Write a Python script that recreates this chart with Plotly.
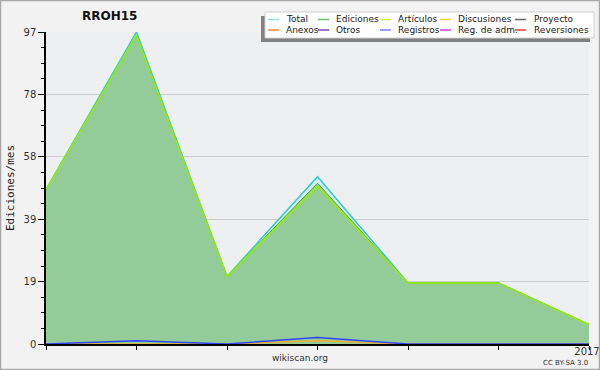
import plotly.graph_objects as go

# ---- data ----
months = ["2016-07", "2016-08", "2016-09", "2016-10", "2016-11", "2016-12", "2017-01"]
x_labels = ["", "", "", "", "", "", "2017"]
total = [48, 97, 21, 52, 19, 19, 6]
ediciones = [48, 96, 21, 50, 19, 19, 6]
articulos = [48, 96, 21, 49, 19, 19, 6]
discusiones = [0, 0, 0, 1, 0, 0, 0]
registros = [0, 1, 0, 2, 0, 0, 0]
y_tickvals = [0, 19.4, 38.8, 58.2, 77.6, 97]
y_ticktext = ["0", "19", "39", "58", "78", "97"]
y_minor = [i * 4.85 for i in range(21)]

legend_items = [
    ("Total", "#9adede"), ("Ediciones", "#6cbf6c"), ("Artículos", "#c8ee44"),
    ("Discusiones", "#ffcc44"), ("Proyecto", "#666666"),
    ("Anexos", "#ff8040"), ("Otros", "#8040c0"), ("Registros", "#8080ff"),
    ("Reg. de adm.", "#cc44cc"), ("Reversiones", "#ff3030"),
]

W, H = 600, 370
L, R, T, B = 46, 11, 32, 26
PW, PH = W - L - R, H - T - B


def px(x):
    return (x - L) / PW


def py(y):
    return (H - B - y) / PH


xi = list(range(len(months)))

fig = go.Figure()
fig.add_trace(go.Scatter(x=xi, y=total, mode="lines", fill="tozeroy",
                         fillcolor="rgba(215,240,238,0.9)",
                         line=dict(color="#33cccc", width=1.5), name="Total"))
fig.add_trace(go.Scatter(x=xi, y=ediciones, mode="lines", fill="tozeroy",
                         fillcolor="#93cb99",
                         line=dict(color="#44aa44", width=1), name="Ediciones"))
fig.add_trace(go.Scatter(x=xi, y=articulos, mode="lines",
                         line=dict(color="#99ee00", width=1.5), name="Artículos"))
fig.add_trace(go.Scatter(x=xi, y=discusiones, mode="lines",
                         line=dict(color="#e8b030", width=1.5), name="Discusiones"))
fig.add_trace(go.Scatter(x=xi, y=registros, mode="lines",
                         line=dict(color="#3344ff", width=1.5), name="Registros"))

shapes = []
annotations = []
# outer border
shapes.append(dict(type="rect", xref="paper", yref="paper",
                   x0=px(0.5), x1=px(W - 0.5), y0=py(H - 0.5), y1=py(0.5),
                   line=dict(color="#a8a8a8", width=1.5), layer="above"))
# legend shadow and box
shapes.append(dict(type="rect", xref="paper", yref="paper",
                   x0=px(261), x1=px(590), y0=py(42), y1=py(16),
                   fillcolor="#808080", line=dict(width=0), layer="above"))
shapes.append(dict(type="rect", xref="paper", yref="paper",
                   x0=px(265), x1=px(594), y0=py(38), y1=py(12),
                   fillcolor="#ffffff", line=dict(color="#d0d0d0", width=1), layer="above"))
col_sample = [268, 318, 380, 440, 515]
col_text = [284, 334, 396, 456, 532]
rows_y = [19.5, 30]
for i, (name, color) in enumerate(legend_items):
    r, c = divmod(i, 5)
    yy = rows_y[r]
    shapes.append(dict(type="line", xref="paper", yref="paper",
                       x0=px(col_sample[c]), x1=px(col_sample[c] + 11),
                       y0=py(yy), y1=py(yy), line=dict(color=color, width=1.5),
                       layer="above"))
    annotations.append(dict(text=name, xref="paper", yref="paper",
                            x=px(col_text[c]), y=py(yy), xanchor="left", yanchor="middle",
                            showarrow=False, font=dict(size=9, color="#222222",
                                                       family="DejaVu Sans")))

annotations.append(dict(text="<b>RROH15</b>", xref="paper", yref="paper",
                        x=px(109), y=py(16), xanchor="center", yanchor="middle",
                        showarrow=False, font=dict(size=12, color="#111111",
                                                   family="DejaVu Sans")))
annotations.append(dict(text="Ediciones/mes", xref="paper", yref="paper",
                        x=px(10), y=py(188), xanchor="center", yanchor="middle",
                        textangle=-90, showarrow=False,
                        font=dict(size=11, color="#222222", family="DejaVu Sans Mono")))
annotations.append(dict(text="wikiscan.org", xref="paper", yref="paper",
                        x=px(300), y=py(358), xanchor="center", yanchor="middle",
                        showarrow=False, font=dict(size=9, color="#333333",
                                                   family="DejaVu Sans")))
annotations.append(dict(text="CC BY-SA 3.0", xref="paper", yref="paper",
                        x=px(590), y=py(363), xanchor="right", yanchor="middle",
                        showarrow=False, font=dict(size=7, color="#333333",
                                                   family="DejaVu Sans")))

fig.update_layout(
    width=W, height=H,
    margin=dict(l=L, r=R, t=T, b=B, pad=0),
    paper_bgcolor="#f2f2f2",
    plot_bgcolor="#eeeff1",
    showlegend=False,
    shapes=shapes,
    annotations=annotations,
    xaxis=dict(range=[0, 6], tickmode="array", tickvals=xi, ticktext=x_labels,
               ticks="outside", ticklen=4, tickcolor="#000", showgrid=False,
               showline=True, linecolor="#000", linewidth=1.5, zeroline=False,
               ticklabeloverflow="allow", ticklabelstandoff=-7, ticklabelshift=-2,
               tickfont=dict(size=10, color="#333333", family="DejaVu Sans"),
               automargin=False, fixedrange=True),
    yaxis=dict(range=[0, 97], tickmode="array", tickvals=y_tickvals, ticktext=y_ticktext,
               ticks="outside", ticklen=6, tickcolor="#000", showgrid=True,
               gridcolor="#cfcfcf", gridwidth=1,
               showline=True, linecolor="#000", linewidth=1.5, zeroline=False,
               tickfont=dict(size=10, color="#333333", family="DejaVu Sans"),
               minor=dict(tickmode="array", tickvals=y_minor, ticks="outside",
                          ticklen=3, tickcolor="#000", showgrid=False),
               automargin=False, fixedrange=True),
)

fig.write_html("out.html")
